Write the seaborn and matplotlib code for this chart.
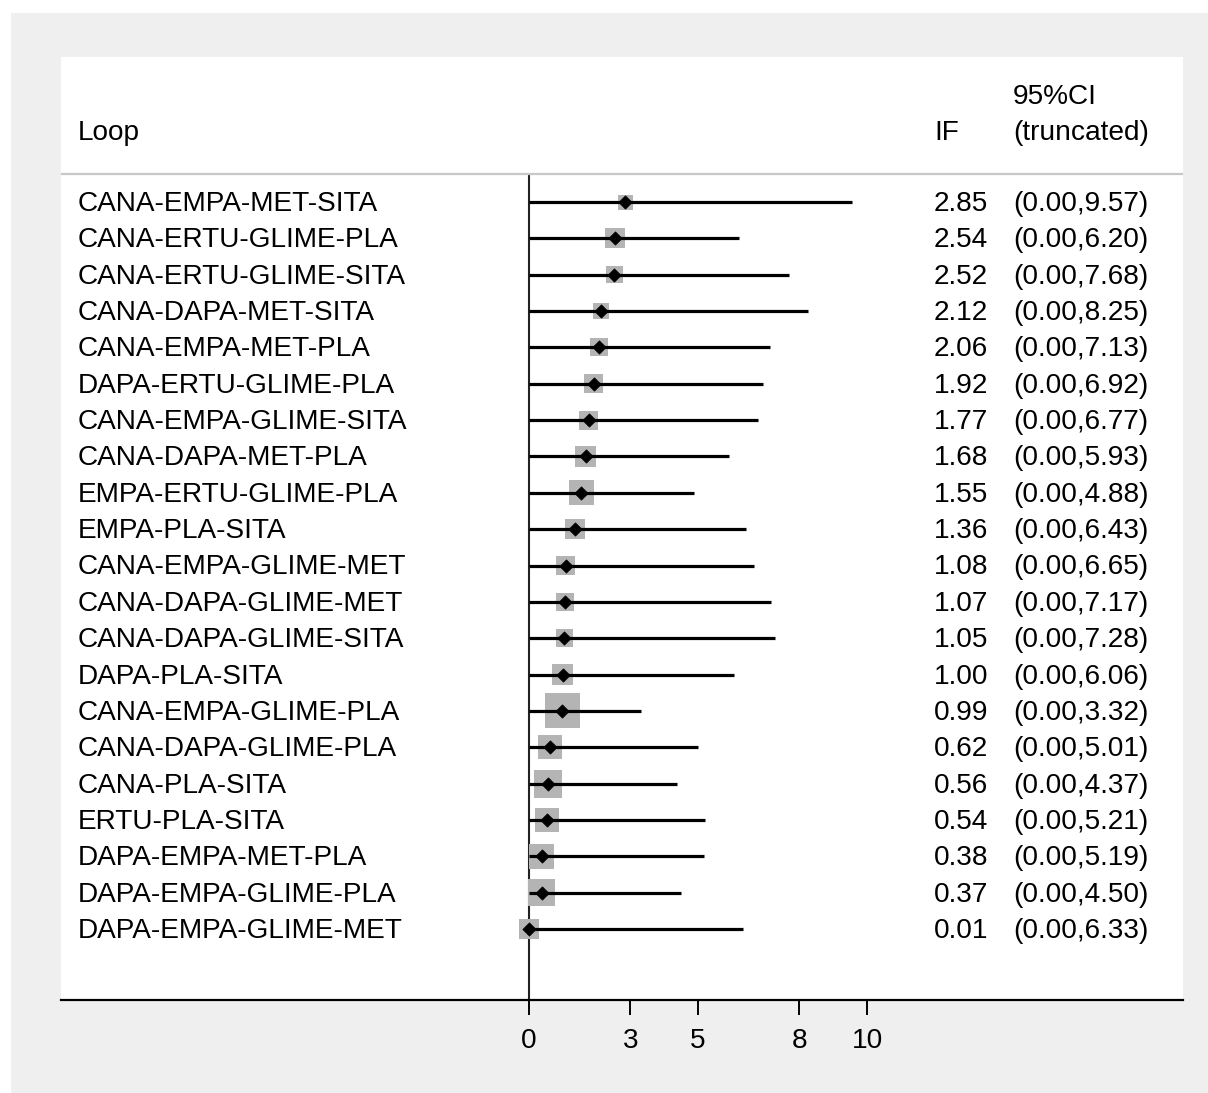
import numpy as np
import pandas as pd
import seaborn as sns
import matplotlib.pyplot as plt
from matplotlib.patches import Rectangle

# ---------------- data ----------------
loops = [
    "CANA-EMPA-MET-SITA", "CANA-ERTU-GLIME-PLA", "CANA-ERTU-GLIME-SITA",
    "CANA-DAPA-MET-SITA", "CANA-EMPA-MET-PLA", "DAPA-ERTU-GLIME-PLA",
    "CANA-EMPA-GLIME-SITA", "CANA-DAPA-MET-PLA", "EMPA-ERTU-GLIME-PLA",
    "EMPA-PLA-SITA", "CANA-EMPA-GLIME-MET", "CANA-DAPA-GLIME-MET",
    "CANA-DAPA-GLIME-SITA", "DAPA-PLA-SITA", "CANA-EMPA-GLIME-PLA",
    "CANA-DAPA-GLIME-PLA", "CANA-PLA-SITA", "ERTU-PLA-SITA",
    "DAPA-EMPA-MET-PLA", "DAPA-EMPA-GLIME-PLA", "DAPA-EMPA-GLIME-MET",
]
if_vals = [2.85, 2.54, 2.52, 2.12, 2.06, 1.92, 1.77, 1.68, 1.55, 1.36, 1.08,
           1.07, 1.05, 1.00, 0.99, 0.62, 0.56, 0.54, 0.38, 0.37, 0.01]
ci_low = [0.00] * 21
ci_high = [9.57, 6.20, 7.68, 8.25, 7.13, 6.92, 6.77, 5.93, 4.88, 6.43, 6.65,
           7.17, 7.28, 6.06, 3.32, 5.01, 4.37, 5.21, 5.19, 4.50, 6.33]
box_weight = [2.25, 4.0, 2.9, 2.6, 3.2, 3.6, 3.6, 4.4, 6.3, 4.0, 3.6, 3.2,
              3.2, 4.4, 12.3, 5.8, 7.8, 5.8, 6.3, 7.3, 4.0]
xticks = [0, 3, 5, 8, 10]
header_loop = "Loop"
header_if = "IF"
header_ci = ["95%CI", "(truncated)"]

df = pd.DataFrame({
    "loop": loops, "IF": if_vals, "lo": ci_low, "hi": ci_high,
    "w": box_weight, "row": np.arange(len(loops)),
})

# ---------------- layout ----------------
W, H = 1208, 1093
sns.set_theme(style="white")
plt.rcParams["font.family"] = ["Liberation Sans", "DejaVu Sans"]
plt.rcParams["text.color"] = "black"
plt.rcParams["xtick.color"] = "black"

fig = plt.figure(figsize=(W / 100, H / 100), dpi=100, facecolor="white")
fig.patches.append(Rectangle((11 / W, 0), 1 - 11 / W, 1 - 13 / H,
                             transform=fig.transFigure, facecolor="#efefef",
                             edgecolor="none", zorder=-10))

pl, pr, pt, pb = 61, 1183, 57, 1000
ax = fig.add_axes([pl / W, 1 - pb / H, (pr - pl) / W, (pb - pt) / H])
ax.set_zorder(5)
ax.set_facecolor("white")

x0px, pxu = 529, 33.8          # pixel of x=0, pixels per unit
y0px, pxr = 202, 36.35         # pixel of first row, pixels per row
def dx(px):
    return (px - x0px) / pxu
def dy(px):
    return (px - y0px) / pxr

ax.set_xlim(dx(pl), dx(pr))
ax.set_ylim(dy(pb), dy(pt))

# boxes (area proportional to weight)
k = 51.84
wmin, wmax = min(box_weight), max(box_weight)
sns.scatterplot(data=df, x="IF", y="row", size="w",
                sizes=(k * wmin, k * wmax), size_norm=(wmin, wmax),
                marker="s", color="#b4b4b4", linewidth=0, legend=False,
                ax=ax, zorder=3)
# CI lines
ax.hlines(df["row"], df["lo"], df["hi"], color="black", lw=2.3, zorder=4)
# point estimates
sns.scatterplot(data=df, x="IF", y="row", marker="D", s=46, color="black",
                edgecolor="black", linewidth=0.5, legend=False, ax=ax, zorder=5)

# reference line at 0 and header separator
hdr_y = dy(174)
ax.vlines(0, hdr_y, dy(pb), color="#222222", lw=1.5, zorder=2)
ax.axhline(hdr_y, color="#c8c8c8", lw=1.6, zorder=2)

fs = 20.2
off = 2 / pxr
for r, (lab, v, lo, hi) in enumerate(zip(loops, if_vals, ci_low, ci_high)):
    ax.text(dx(78), r + off, lab, ha="left", va="center", fontsize=fs)
    ax.text(dx(988), r + off, f"{v:.2f}", ha="right", va="center", fontsize=fs)
    ax.text(dx(1013), r + off, f"({lo:.2f},{hi:.2f})", ha="left", va="center",
            fontsize=fs)

ax.text(dx(78), dy(133), header_loop, ha="left", va="center", fontsize=fs)
ax.text(dx(934), dy(133), header_if, ha="left", va="center", fontsize=fs)
ax.text(dx(1013), dy(97), header_ci[0], ha="left", va="center", fontsize=fs)
ax.text(dx(1013), dy(133), header_ci[1], ha="left", va="center", fontsize=fs)

# axes styling
for s in ["top", "left", "right"]:
    ax.spines[s].set_visible(False)
ax.spines["bottom"].set_color("black")
ax.spines["bottom"].set_linewidth(1.6)
ax.set_xticks(xticks)
ax.set_xticklabels([str(t) for t in xticks])
ax.set_yticks([])
ax.tick_params(axis="x", direction="out", length=10.8, width=1.4,
               color="black", labelcolor="black", labelsize=fs, pad=9,
               bottom=True)
ax.set_xlabel("")
ax.set_ylabel("")
ax.grid(False)

fig.savefig("out.png", dpi=100, facecolor=fig.get_facecolor())
